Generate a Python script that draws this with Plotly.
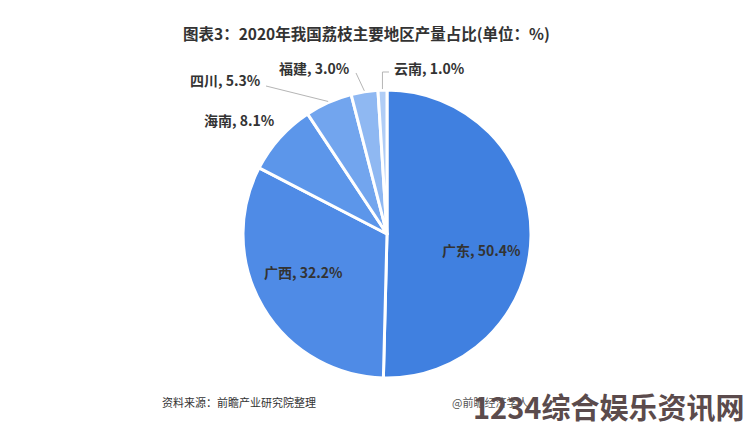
import math
import plotly.graph_objects as go

# ---- data ----
regions = ["广东", "广西", "海南", "四川", "福建", "云南"]
shares = [50.4, 32.2, 8.1, 5.3, 3.0, 1.0]
colors = ["#4080e0", "#4f8be6", "#5c96ea", "#72a5ee", "#8fb8f2", "#b0cdf6"]
title_text = "图表3：2020年我国荔枝主要地区产量占比(单位：%)"
source_text = "资料来源：前瞻产业研究院整理"
credit_text = "@前瞻经济学人"
watermark_text = "1234综合娱乐资讯网"

W, H = 750, 427
CX, CY, R = 387, 234, 144  # pie centre/radius in pixels

def px(x):
    return x / W

def py(y):
    return 1 - y / H

fig = go.Figure()
fig.add_trace(go.Pie(
    labels=regions, values=shares, sort=False, direction="clockwise", rotation=0,
    marker=dict(colors=colors, line=dict(color="white", width=3)),
    textinfo="none", hoverinfo="none", showlegend=False,
    domain=dict(x=[px(CX - R), px(CX + R)], y=[py(CY + R), py(CY - R)]),
))

total = sum(shares)
cum = 0
mids = []
for v in shares:
    mids.append((cum + v / 2) / total * 2 * math.pi)
    cum += v

def point(ang, r):
    return CX + r * math.sin(ang), CY - r * math.cos(ang)

font_lbl = dict(family="Noto Sans CJK SC", size=14, color="#333333")
annotations = []
shapes = []

# label placement (pixel anchors), leader lines
placement = {
    0: dict(pos=(481, 250), xa="center", line=None),
    1: dict(pos=(303, 272), xa="center", line=None),
    2: dict(pos=(277, 120), xa="right", line=None),
    3: dict(pos=(263, 80), xa="right", line=[(266, 86)]),
    4: dict(pos=(352, 68), xa="right", line=[(356, 73)]),
    5: dict(pos=(392, 68), xa="left", line=[(383, 72), (389, 72)]),
}
for i, o in placement.items():
    annotations.append(dict(x=px(o["pos"][0]), y=py(o["pos"][1]), xref="paper", yref="paper",
                            text=f"<b>{regions[i]}, {shares[i]:.1f}%</b>", showarrow=False,
                            font=font_lbl, xanchor=o["xa"], yanchor="middle"))
    if o["line"]:
        sx, sy = point(mids[i], R + 1)
        pts = [(sx, sy)] + o["line"]
        if i == 5:
            pts[1] = (sx, pts[1][1])
        path = "M " + " L ".join(f"{px(a):.5f},{py(b):.5f}" for a, b in pts)
        shapes.append(dict(type="path", path=path, xref="paper", yref="paper",
                           line=dict(color="#b5b5b5", width=1)))

annotations.append(dict(x=px(366), y=py(33), xref="paper", yref="paper",
                        text=f"<b>{title_text}</b>", showarrow=False,
                        font=dict(family="Noto Sans CJK SC", size=15.5, color="#333333"),
                        xanchor="center", yanchor="middle"))
annotations.append(dict(x=px(160), y=py(402), xref="paper", yref="paper",
                        text=source_text, showarrow=False,
                        font=dict(family="Noto Sans CJK SC", size=11, color="#333333"),
                        xanchor="left", yanchor="middle"))
annotations.append(dict(x=px(450), y=py(402), xref="paper", yref="paper",
                        text=credit_text, showarrow=False,
                        font=dict(family="Noto Sans CJK SC", size=11, color="#555555"),
                        xanchor="left", yanchor="middle"))
annotations.append(dict(x=px(746), y=py(406), xref="paper", yref="paper",
                        text=f"<b>{watermark_text}</b>", showarrow=False,
                        font=dict(family="Noto Sans CJK SC", size=29, color="#5b4b4c"),
                        xanchor="right", yanchor="middle"))

fig.update_layout(
    width=W, height=H, margin=dict(l=0, r=0, t=0, b=0),
    paper_bgcolor="white", plot_bgcolor="white",
    annotations=annotations, shapes=shapes,
)
fig.write_html("out.html")
